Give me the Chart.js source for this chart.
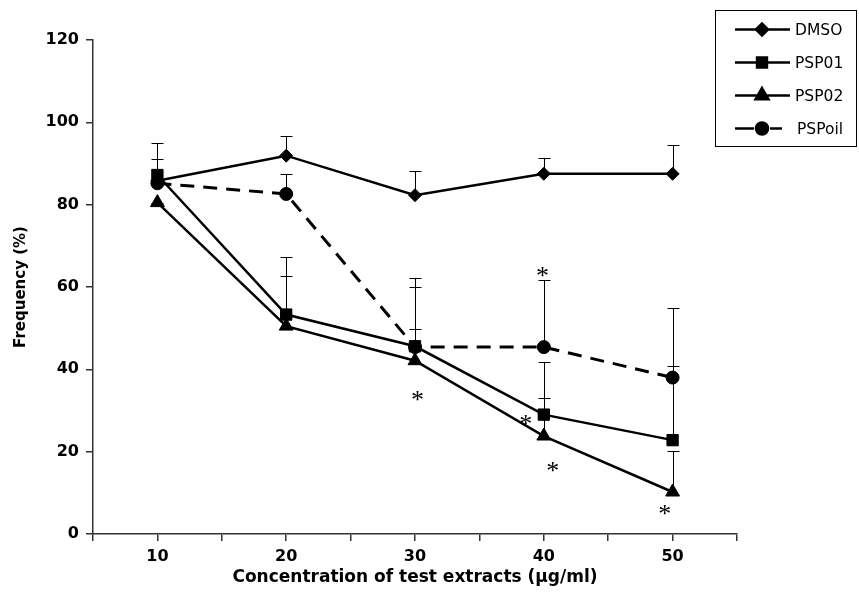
<!DOCTYPE html>
<html>
<head>
<meta charset="utf-8">
<script src="https://cdn.jsdelivr.net/npm/chart.js@4"></script>
<style>
  html, body { margin: 0; padding: 0; background: #fff; }
  #chart { display: block; }
</style>
</head>
<body>
<canvas id="chart" width="859" height="611"></canvas>
<script>
// concentrations (ug/ml)
const concentrations = [10, 20, 30, 40, 50];

// frequency (%) per treatment
const dmso   = [85.8, 91.9, 82.3, 87.5, 87.5];
const psp01  = [87.2, 53.3, 45.6, 29.0, 22.8];
const psp02  = [80.5, 50.5, 42.1, 23.8, 10.2];
const pspoil = [85.2, 82.6, 45.4, 45.4, 38.0];

// upper error bar ends (%)
const dmsoErr   = [95.0, 96.7, 88.2, 91.3, 94.6];
const psp01Err  = [91.2, 67.4, 60.1, 41.9, 40.8];
const psp02Err  = [80.5, 62.7, 49.9, 33.1, 20.2];
const pspoilErr = [85.2, 87.4, 62.3, 61.7, 54.8];

// significance marks (x, y in data units)
const starX = [30.2, 38.6, 40.7, 39.9, 49.4];
const starY = [33.5, 27.8, 16.3, 63.6, 5.8];

const yTicks = [0, 20, 40, 60, 80, 100, 120];

const FONT = '"DejaVu Sans", "Liberation Sans", Arial, sans-serif';

function points(vals) {
    return concentrations.map((c, i) => ({ x: c, y: vals[i] }));
}

const errorBars = {
    id: 'errorBars',
    beforeDatasetsDraw(chart) {
        const ctx = chart.ctx;
        const y = chart.scales.y;
        ctx.save();
        ctx.strokeStyle = '#000';
        ctx.lineWidth = 1;
        chart.data.datasets.forEach((ds, di) => {
            const meta = chart.getDatasetMeta(di);
            meta.data.forEach((pt, i) => {
                const top = Math.round(y.getPixelForValue(ds.errTop[i])) + 0.5;
                const x = Math.round(pt.x) + 0.5;
                ctx.beginPath();
                ctx.moveTo(x, pt.y);
                ctx.lineTo(x, top);
                ctx.moveTo(x - 6, top);
                ctx.lineTo(x + 6, top);
                ctx.stroke();
            });
        });
        ctx.restore();
    }
};

const stars = {
    id: 'stars',
    afterDatasetsDraw(chart) {
        const ctx = chart.ctx;
        ctx.save();
        ctx.fillStyle = '#000';
        ctx.font = '26px "Liberation Serif", "DejaVu Serif", serif';
        ctx.textAlign = 'center';
        ctx.textBaseline = 'alphabetic';
        starX.forEach((sx, i) => {
            const px = chart.scales.x.getPixelForValue(sx);
            const py = chart.scales.y.getPixelForValue(starY[i]);
            ctx.fillText('*', px, py + 12);
        });
        ctx.restore();
    }
};

const boxLegend = {
    id: 'boxLegend',
    afterDraw(chart) {
        const ctx = chart.ctx;
        ctx.save();
        ctx.strokeStyle = '#000';
        ctx.lineWidth = 1;
        ctx.strokeRect(715.5, 10.5, 141, 136);
        ctx.font = '15.5px ' + FONT;
        ctx.textBaseline = 'middle';
        ctx.fillStyle = '#000';
        chart.data.datasets.forEach((ds, i) => {
            const ly = 29.5 + i * 33;
            ctx.lineWidth = 2.5;
            ctx.beginPath();
            if (ds.borderDash) {
                ctx.moveTo(735, ly);
                ctx.lineTo(754, ly);
                ctx.moveTo(770, ly);
                ctx.lineTo(782, ly);
            } else {
                ctx.moveTo(735, ly);
                ctx.lineTo(790, ly);
            }
            ctx.stroke();
            Chart.helpers.drawPoint(ctx, {
                pointStyle: ds.pointStyle,
                radius: ds.legendRadius,
                rotation: 0,
                borderWidth: 1
            }, 762, ly);
            ctx.fill();
            ctx.fillText(ds.label, ds.borderDash ? 797 : 795, ly + 1);
        });
        ctx.restore();
    }
};

new Chart(document.getElementById('chart').getContext('2d'), {
    type: 'line',
    data: {
        datasets: [{
            label: 'DMSO',
            data: points(dmso),
            errTop: dmsoErr,
            pointStyle: 'rectRot',
            pointRadius: 6.5,
            legendRadius: 6
        }, {
            label: 'PSP01',
            data: points(psp01),
            errTop: psp01Err,
            pointStyle: 'rect',
            pointRadius: 8,
            legendRadius: 7
        }, {
            label: 'PSP02',
            data: points(psp02),
            errTop: psp02Err,
            pointStyle: 'triangle',
            pointRadius: 8,
            legendRadius: 7.5
        }, {
            label: 'PSPoil',
            data: points(pspoil),
            errTop: pspoilErr,
            pointStyle: 'circle',
            pointRadius: 6.5,
            legendRadius: 6,
            borderDash: [14, 9],
            borderWidth: 3
        }].map(ds => Object.assign({
            borderColor: '#000',
            backgroundColor: '#000',
            pointBackgroundColor: '#000',
            pointBorderColor: '#000',
            pointBorderWidth: 1,
            borderWidth: 2.5,
            tension: 0,
            fill: false
        }, ds))
    },
    options: {
        responsive: false,
        animation: false,
        layout: { padding: { top: 40, right: 122, left: 12, bottom: 23 } },
        plugins: {
            legend: { display: false },
            tooltip: { enabled: false }
        },
        scales: {
            x: {
                type: 'linear',
                min: 5,
                max: 55,
                afterFit(s) { s.height = 54; },
                border: { color: '#333', width: 1.5 },
                grid: { drawOnChartArea: false, tickLength: 7, color: '#333', lineWidth: 1.5 },
                ticks: {
                    stepSize: 5,
                    padding: 6,
                    color: '#000',
                    font: { family: FONT, size: 16, weight: 'bold' },
                    callback: v => (v % 10 === 0 ? String(v) : '')
                },
                title: {
                    display: true,
                    text: 'Concentration of test extracts (µg/ml)',
                    color: '#000',
                    font: { family: FONT, size: 17, weight: 'bold' },
                    padding: 0
                }
            },
            y: {
                min: 0,
                max: 120,
                afterFit(s) { s.width = 81; },
                afterBuildTicks(s) { s.ticks = yTicks.map(v => ({ value: v })); },
                border: { color: '#333', width: 1.5 },
                grid: { drawOnChartArea: false, tickLength: 7, color: '#333', lineWidth: 1.5 },
                ticks: {
                    padding: 7,
                    color: '#000',
                    font: { family: FONT, size: 16, weight: 'bold' }
                },
                title: {
                    display: true,
                    text: 'Frequency (%)',
                    color: '#000',
                    font: { family: FONT, size: 15, weight: 'bold' },
                    padding: 0
                }
            }
        }
    },
    plugins: [errorBars, stars, boxLegend]
});
</script>
</body>
</html>
